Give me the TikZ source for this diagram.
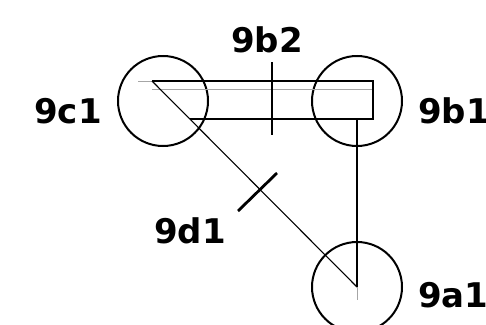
\documentclass[tikz,border=0pt]{standalone}
\usepackage{fontspec}
\setmainfont{DejaVu Sans}[BoldFont={DejaVu Sans Bold}]
\begin{document}
\begin{tikzpicture}[x=1pt,y=-1pt,
  ring/.style={draw, circle, line width=2pt, minimum size=90pt, inner sep=0pt},
  thin/.style={line width=1.1pt},
  faint/.style={line width=1pt, gray!70},
  tick/.style={line width=2.8pt},
  lbl/.style={anchor=base west, inner sep=0pt, font=\fontsize{34}{40}\selectfont\bfseries}]
\useasboundingbox (0,0) rectangle (486,324);
% circles
\node[ring] (c1) at (163,101) {};
\node[ring] (b1) at (357,101) {};
\node[ring] (a1) at (357,287) {};
% connector points
\coordinate (p) at (152,81);
\coordinate (tr) at (373,81);
\coordinate (br) at (373,119);
\coordinate (bl) at (190,119);
\coordinate (vb) at (357,119);
\coordinate (ve) at (357,287);
\coordinate (gl) at (152,89);
\coordinate (gr) at (373,89);
\coordinate (pl) at (138,81);
\coordinate (vx) at (357,300);
% lines
\draw[faint] (pl) -- (p);
\draw[faint] (gl) -- (gr);
\draw[faint] (ve) -- (vx);
\draw[thin] (p) -- (tr) -- (br) -- (bl);
\draw[thin] (vb) -- (ve);
\draw[thin] (p) -- (ve);
% ticks
\coordinate (t1a) at (272,62);
\coordinate (t1b) at (272,135);
\coordinate (t2a) at (238,211);
\coordinate (t2b) at (277,173);
\draw[tick] (t1a) -- (t1b);
\draw[tick] (t2a) -- (t2b);
% labels
\node[lbl] (l9c1) at (34,123) {9c1};
\node[lbl] (l9b1) at (418,123) {9b1};
\node[lbl] (l9b2) at (231,52) {9b2};
\node[lbl] (l9d1) at (154,243) {9d1};
\node[lbl] (l9a1) at (418,307) {9a1};
\end{tikzpicture}
\end{document}
